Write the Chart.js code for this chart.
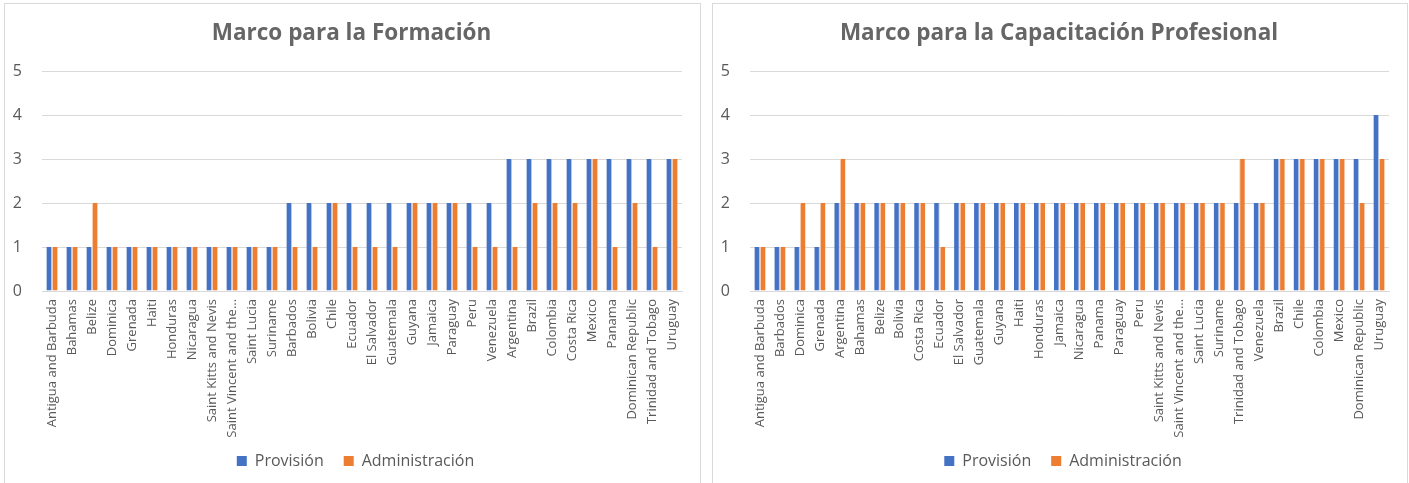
<!DOCTYPE html>
<html>
<head>
<meta charset="utf-8">
<title>Marco para la Formación / Capacitación Profesional</title>
<script src="https://cdn.jsdelivr.net/npm/chart.js@4.4.1/dist/chart.umd.min.js"></script>
<style>
  html, body { margin: 0; padding: 0; background: #ffffff; }
  .panel {
    position: absolute;
    top: 3px;
    height: 492px;
    border: 1px solid #d9d9d9;
    box-sizing: border-box;
    background: #ffffff;
  }
  #panelA { left: 4px; width: 697px; }
  #panelB { left: 712px; width: 696px; }
  canvas { display: block; }
</style>
</head>
<body>
<div class="panel" id="panelA"><canvas id="chartA" width="695" height="478"></canvas></div>
<div class="panel" id="panelB"><canvas id="chartB" width="694" height="478"></canvas></div>

<script>
// ---- Marco para la Formación ----
const formacionCountries = [
  "Antigua and Barbuda", "Bahamas", "Belize", "Dominica", "Grenada", "Haiti",
  "Honduras", "Nicaragua", "Saint Kitts and Nevis", "Saint Vincent and the Grenadines",
  "Saint Lucia", "Suriname", "Barbados", "Bolivia", "Chile", "Ecuador",
  "El Salvador", "Guatemala", "Guyana", "Jamaica", "Paraguay", "Peru",
  "Venezuela", "Argentina", "Brazil", "Colombia", "Costa Rica", "Mexico",
  "Panama", "Dominican Republic", "Trinidad and Tobago", "Uruguay"
];
const formacionProvision = [
  1, 1, 1, 1, 1, 1, 1, 1, 1, 1, 1, 1, 2, 2, 2, 2,
  2, 2, 2, 2, 2, 2, 2, 3, 3, 3, 3, 3, 3, 3, 3, 3
];
const formacionAdministracion = [
  1, 1, 2, 1, 1, 1, 1, 1, 1, 1, 1, 1, 1, 1, 2, 1,
  1, 1, 2, 2, 2, 1, 1, 1, 2, 2, 2, 3, 1, 2, 1, 3
];

// ---- Marco para la Capacitación Profesional ----
const capacitacionCountries = [
  "Antigua and Barbuda", "Barbados", "Dominica", "Grenada", "Argentina", "Bahamas",
  "Belize", "Bolivia", "Costa Rica", "Ecuador", "El Salvador", "Guatemala",
  "Guyana", "Haiti", "Honduras", "Jamaica", "Nicaragua", "Panama", "Paraguay",
  "Peru", "Saint Kitts and Nevis", "Saint Vincent and the Grenadines", "Saint Lucia",
  "Suriname", "Trinidad and Tobago", "Venezuela", "Brazil", "Chile", "Colombia",
  "Mexico", "Dominican Republic", "Uruguay"
];
const capacitacionProvision = [
  1, 1, 1, 1, 2, 2, 2, 2, 2, 2, 2, 2, 2, 2, 2, 2,
  2, 2, 2, 2, 2, 2, 2, 2, 2, 2, 3, 3, 3, 3, 3, 4
];
const capacitacionAdministracion = [
  1, 1, 2, 2, 3, 2, 2, 2, 2, 1, 2, 2, 2, 2, 2, 2,
  2, 2, 2, 2, 2, 2, 2, 2, 3, 2, 3, 3, 3, 3, 2, 3
];

const yTicks = [0, 1, 2, 3, 4, 5];
const seriesNames = ["Provisión", "Administración"];

const BLUE = "#4472C4";
const ORANGE = "#ED7D31";
const TEXT = "#595959";
const TITLE = "#666666";
const GRID = "#d9d9d9";
const FONT = "'Open Sans', 'Liberation Sans', sans-serif";

// Long category names are cut short on the axis
function shortLabel(name) {
  return name.length > 24 ? name.slice(0, 21) + "…" : name;
}

// Title and legend are centred on the whole panel rather than on the
// padded layout box; the legend also sits a little into the label band.
const panelPlacement = {
  id: "panelPlacement",
  afterLayout(chart, args, opts) {
    const t = chart.titleBlock;
    if (t) { t.left += opts.titleDx; t.right += opts.titleDx; }
    const l = chart.legend;
    if (l) {
      l.left += opts.legendDx; l.right += opts.legendDx;
      l.top += opts.legendDy; l.bottom += opts.legendDy;
    }
  }
};

function buildChart(canvasId, title, countries, provision, administracion) {
  return new Chart(document.getElementById(canvasId), {
    type: "bar",
    data: {
      labels: countries,
      datasets: [
        {
          label: seriesNames[0],
          data: provision,
          backgroundColor: BLUE,
          borderColor: "#b4c7e7",
          borderWidth: { top: 0, bottom: 0, left: 0, right: 1 },
          categoryPercentage: 0.56,
          barPercentage: 1.0
        },
        {
          label: seriesNames[1],
          data: administracion,
          backgroundColor: ORANGE,
          borderColor: "#f8cbad",
          borderWidth: { top: 0, bottom: 0, left: 1, right: 0 },
          categoryPercentage: 0.56,
          barPercentage: 1.0
        }
      ]
    },
    plugins: [panelPlacement],
    options: {
      responsive: false,
      animation: false,
      layout: { padding: { left: 0, right: 18, top: 0, bottom: -5 } },
      plugins: {
        panelPlacement: { titleDx: 8, legendDx: 12, legendDy: -8 },
        title: {
          display: true,
          text: title,
          color: TITLE,
          font: { family: FONT, size: 22.5, weight: "bold" },
          padding: { top: 16, bottom: 24 }
        },
        legend: {
          display: true,
          position: "bottom",
          labels: {
            color: TEXT,
            font: { family: FONT, size: 16 },
            boxWidth: 10,
            boxHeight: 10,
            padding: 20,
            generateLabels(chart) {
              return chart.data.datasets.map((ds, i) => ({
                text: ds.label,
                fillStyle: ds.backgroundColor,
                strokeStyle: ds.backgroundColor,
                lineWidth: 0,
                hidden: false,
                datasetIndex: i,
                fontColor: TEXT
              }));
            }
          }
        },
        tooltip: { enabled: false }
      },
      scales: {
        x: {
          grid: { display: false, drawTicks: false },
          border: { display: true, color: GRID, width: 1 },
          ticks: {
            autoSkip: false,
            minRotation: 90,
            maxRotation: 90,
            padding: 8,
            color: TEXT,
            font: { family: FONT, size: 13 },
            callback(value) { return shortLabel(this.getLabelForValue(value)); }
          },
          afterFit(scale) { scale.height = 150; }
        },
        y: {
          min: yTicks[0],
          max: yTicks[yTicks.length - 1],
          afterBuildTicks(scale) { scale.ticks = yTicks.map(v => ({ value: v })); },
          grid: { color: GRID, lineWidth: 1, drawTicks: false },
          border: { display: false },
          ticks: {
            padding: 20,
            color: TEXT,
            font: { family: FONT, size: 16 }
          },
          afterFit(scale) { scale.width = 37; }
        }
      }
    }
  });
}

buildChart("chartA", "Marco para la Formación",
  formacionCountries, formacionProvision, formacionAdministracion);
buildChart("chartB", "Marco para la Capacitación Profesional",
  capacitacionCountries, capacitacionProvision, capacitacionAdministracion);
</script>
</body>
</html>
